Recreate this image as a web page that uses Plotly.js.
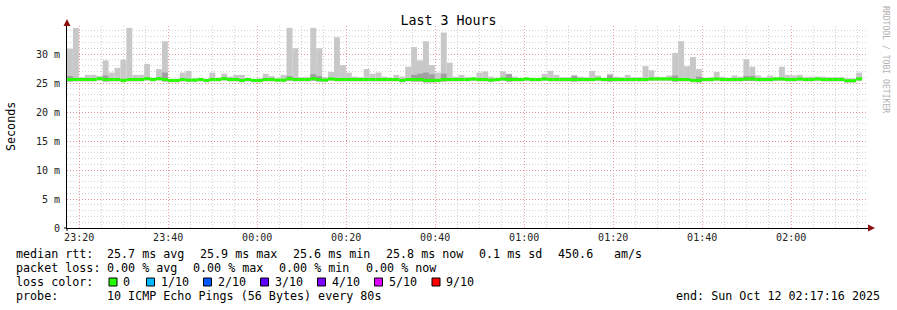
<!DOCTYPE html>
<html>
<head>
<meta charset="utf-8">
<script src="https://cdn.plot.ly/plotly-3.0.1.min.js"></script>
<style>
html,body{margin:0;padding:0;background:#fff;}
#chart{width:897px;height:310px;}
</style>
</head>
<body>
<div id="chart"></div>
<script>
// ---- data (80 s steps, 3 hours ending Sun Oct 12 02:17:16 2025) ----
const rangeStart = '2025-10-11 23:17:16';
const rangeEnd   = '2025-10-12 02:17:16';
const stepSeconds = 80;

// median RTT per step (ms)
const rttMedian = [
  25.6,25.6,25.6,25.6,25.6,25.75,25.6,25.6,25.6,25.45,
  25.6,25.6,25.6,25.75,25.6,25.75,25.6,25.45,25.45,25.6,
  25.5,25.5,25.6,25.45,25.6,25.6,25.75,25.6,25.6,25.45,
  25.6,25.45,25.45,25.6,25.6,25.5,25.5,25.75,25.6,25.6,
  25.6,25.75,25.6,25.5,25.7,25.6,25.6,25.6,25.6,25.6,
  25.6,25.6,25.6,25.6,25.6,25.6,25.45,25.6,25.6,25.6,
  25.45,25.45,25.45,25.6,25.6,25.6,25.6,25.6,25.7,25.6,
  25.6,25.5,25.6,25.7,25.6,25.6,25.6,25.7,25.6,25.6,
  25.7,25.6,25.6,25.6,25.6,25.6,25.6,25.6,25.6,25.7,
  25.6,25.6,25.6,25.6,25.6,25.6,25.6,25.6,25.7,25.7,
  25.7,25.7,25.6,25.6,25.6,25.45,25.45,25.6,25.6,25.7,
  25.6,25.6,25.6,25.6,25.7,25.7,25.6,25.6,25.6,25.7,
  25.7,25.6,25.6,25.7,25.6,25.6,25.7,25.6,25.6,25.6,
  25.6,25.4,25.4,25.7,null
];

// slowest ping per step (ms) - top of the light smoke
const rttMax = [
  30.9,34.5,26.0,26.4,26.4,26.2,28.9,26.8,27.6,29.0,
  34.5,26.4,26.4,28.3,25.9,27.4,32.2,25.7,25.7,26.8,
  27.1,25.8,25.8,25.7,26.8,25.9,26.6,26.1,26.4,26.4,
  25.8,25.7,25.8,26.6,26.2,25.8,26.4,34.5,31.0,26.0,
  26.0,34.5,31.0,26.0,26.9,32.9,28.1,26.8,26.1,26.0,
  27.4,26.6,26.8,26.1,25.8,26.4,26.1,27.8,31.2,28.9,
  32.2,28.1,26.8,33.7,28.5,26.1,26.4,26.0,26.0,26.8,
  27.0,26.1,25.8,27.0,26.6,26.1,25.8,25.8,25.8,25.8,
  26.6,27.1,26.4,26.0,26.0,26.4,26.1,26.0,27.1,26.3,
  25.8,26.6,26.1,26.0,26.4,26.0,26.0,27.9,27.2,26.1,
  26.0,26.3,30.2,32.2,27.9,29.5,27.4,25.8,26.0,26.9,
  26.1,25.8,26.3,26.1,29.1,27.8,26.3,26.0,26.3,26.0,
  27.8,26.4,26.3,26.4,26.0,26.1,26.1,26.1,26.0,26.0,
  26.0,25.8,25.8,26.8,null
];

// inner (darker) smoke top per step (ms)
const rttInner = [
  26.2,null,null,null,null,null,26.3,null,null,null,
  null,null,null,null,null,null,26.8,null,null,null,
  null,null,null,null,null,null,null,null,null,null,
  null,null,null,null,null,null,null,26.2,null,null,
  null,26.5,26.2,null,null,null,null,null,null,null,
  null,null,null,null,null,null,null,null,26.4,26.6,
  26.8,26.5,null,26.6,null,null,null,null,null,null,
  null,null,null,null,26.5,null,null,null,null,null,
  null,null,null,null,null,26.2,null,null,null,null,
  null,26.3,null,null,null,null,null,null,null,null,
  null,null,26.3,null,null,null,26.1,null,null,null,
  null,null,null,null,26.2,26.2,null,null,null,null,
  null,null,null,null,null,null,null,null,null,null,
  null,null,null,null,null
];

const yTickVals  = [0, 5, 10, 15, 20, 25, 30];
const yTickText  = ['0', '5 m', '10 m', '15 m', '20 m', '25 m', '30 m'];

const lossLabels = ['0', '1/10', '2/10', '3/10', '4/10', '5/10', '9/10'];
const lossColors = ['#26ff00', '#00b8ff', '#0059ff', '#5e00ff', '#7e00ff', '#dd00ff', '#ff0000'];

const statsMedian = ['median rtt:', '25.7 ms avg', '25.9 ms max', '25.6 ms min', '25.8 ms now', '0.1 ms sd', '450.6', 'am/s'];
const statsLoss   = ['packet loss:', '0.00 % avg', '0.00 % max', '0.00 % min', '0.00 % now'];
const probeText   = '10 ICMP Echo Pings (56 Bytes) every 80s';
const endText     = 'end: Sun Oct 12 02:17:16 2025';

// ---- build ----
function pad(n){return (n<10?'0':'')+n;}
function fmt(ms){
  const d = new Date(ms);
  return d.getUTCFullYear()+'-'+pad(d.getUTCMonth()+1)+'-'+pad(d.getUTCDate())+' '+
         pad(d.getUTCHours())+':'+pad(d.getUTCMinutes())+':'+pad(d.getUTCSeconds());
}
const t0 = Date.UTC(2025, 9, 11, 23, 17, 16);
const xs = rttMedian.map((_, i) => fmt(t0 + (i * stepSeconds + stepSeconds / 2) * 1000));
const barW = stepSeconds * 1000;

const smokeBase = rttMedian.map(m => m == null ? null : m - 0.35);
const lightTrace = {
  type: 'bar', x: xs, base: smokeBase,
  y: rttMax.map((v, i) => v == null ? null : v - smokeBase[i]),
  width: barW, marker: {color: '#c8c8c8', line: {width: 0}}, hoverinfo: 'skip'
};
const innerTrace = {
  type: 'bar', x: xs, base: smokeBase,
  y: rttInner.map((v, i) => v == null ? null : v - smokeBase[i]),
  width: barW, marker: {color: '#a0a0a0', line: {width: 0}}, hoverinfo: 'skip'
};
const medianTrace = {
  type: 'bar', x: xs, base: rttMedian.map(m => m == null ? null : m - 0.26),
  y: rttMedian.map(m => m == null ? null : 0.52),
  width: barW, marker: {color: lossColors[0], line: {width: 0}}, hoverinfo: 'skip'
};

// pixel helpers for decorations around the plot area (plot: x 67..868, y 26..228)
const PL = 67, PR = 868, PT = 26, PB = 228;
const px = x => (x - PL) / (PR - PL);
const py = y => (PB - y) / (PB - PT);

const MONO = 'DejaVu Sans Mono';
const annotations = [];
function txt(text, x, y, opt) {
  annotations.push(Object.assign({
    text: text, xref: 'paper', yref: 'paper', x: px(x), y: py(y),
    xanchor: 'left', yanchor: 'middle', showarrow: false, borderpad: 0, borderwidth: 0,
    font: {family: MONO, size: 11.7, color: '#000'}
  }, opt || {}));
}
const medX = [16, 107, 200, 293, 386, 479, 558, 614];
statsMedian.forEach((s, i) => txt(s, medX[i], 254));
const lossX = [16, 107, 193, 279, 366];
statsLoss.forEach((s, i) => txt(s, lossX[i], 268));
txt('loss color:', 16, 282);
txt('probe:', 16, 296);
txt(probeText, 107, 296);
txt(endText, 880, 296, {xanchor: 'right'});

const shapes = [];
const boxX = [109, 146.5, 203.5, 260.5, 317.5, 374.5, 432];
const lblX = [123, 160.5, 217.5, 274.5, 331.5, 388.5, 446];
lossLabels.forEach((l, i) => {
  shapes.push({type: 'rect', xref: 'paper', yref: 'paper',
    x0: px(boxX[i]), x1: px(boxX[i] + 8), y0: py(278), y1: py(286),
    fillcolor: lossColors[i], line: {color: '#000', width: 1}});
  txt(l, lblX[i], 282);
});

// axis arrows and small axis overhangs
shapes.push({type: 'path', xref: 'paper', yref: 'paper',
  path: `M ${px(63.5)} ${py(26)} L ${px(70.5)} ${py(26)} L ${px(67)} ${py(19)} Z`,
  fillcolor: '#8b1010', line: {width: 0}});
shapes.push({type: 'path', xref: 'paper', yref: 'paper',
  path: `M ${px(868)} ${py(224.5)} L ${px(868)} ${py(231.5)} L ${px(875)} ${py(228)} Z`,
  fillcolor: '#8b1010', line: {width: 0}});
shapes.push({type: 'line', xref: 'paper', yref: 'paper', x0: 0, x1: 0, y0: py(228), y1: py(231),
  line: {color: '#000', width: 1}});
shapes.push({type: 'line', xref: 'paper', yref: 'paper', x0: px(64), x1: 0, y0: 0, y1: 0,
  line: {color: '#000', width: 1}});

// y title and watermark
annotations.push({text: 'Seconds', xref: 'paper', yref: 'paper', x: px(11), y: py(127),
  xanchor: 'center', yanchor: 'middle', textangle: -90, showarrow: false,
  font: {family: MONO, size: 11.7, color: '#000'}});
annotations.push({text: 'RRDTOOL / TOBI OETIKER', xref: 'paper', yref: 'paper', x: px(886), y: py(59),
  xanchor: 'center', yanchor: 'middle', textangle: 90, showarrow: false,
  font: {family: MONO, size: 8.1, color: '#b0b0b0'}});

const MAJ = 'rgba(235,120,120,0.7)';
const MIN = '#d2d2d2';
const layout = {
  width: 897, height: 310,
  margin: {l: PL, r: 897 - PR, t: PT, b: 310 - PB, pad: 0},
  paper_bgcolor: '#fff', plot_bgcolor: '#fff',
  showlegend: false, barmode: 'overlay', hovermode: false,
  title: {text: 'Last 3 Hours', xref: 'container', yref: 'container', x: 0.5, y: 1 - 20 / 310,
    xanchor: 'center', yanchor: 'middle', font: {family: MONO, size: 13.3, color: '#000'}},
  xaxis: {
    type: 'date', range: [rangeStart, rangeEnd],
    tick0: '2025-10-11 23:20:00', dtick: 20 * 60 * 1000, tickformat: '%H:%M',
    showgrid: true, gridcolor: MAJ, griddash: '1px,2px', gridwidth: 1,
    minor: {tick0: '2025-10-11 23:20:00', dtick: 5 * 60 * 1000, showgrid: true, gridcolor: MIN, griddash: '1px,2px', gridwidth: 1},
    showline: true, linecolor: '#000', linewidth: 1, zeroline: false, ticks: '',
    tickfont: {family: MONO, size: 10, color: '#222'}, fixedrange: true
  },
  yaxis: {
    range: [0, (PB - PT) / 5.8], tickvals: yTickVals, ticktext: yTickText,
    showgrid: true, gridcolor: MAJ, griddash: '1px,2px', gridwidth: 1,
    minor: {dtick: 1, showgrid: true, gridcolor: MIN, griddash: '1px,2px', gridwidth: 1},
    showline: true, linecolor: '#000', linewidth: 1, zeroline: false, ticks: '',
    ticklabelstandoff: 4,
    tickfont: {family: MONO, size: 10, color: '#222'}, fixedrange: true
  },
  annotations: annotations,
  shapes: shapes
};

Plotly.newPlot('chart', [lightTrace, innerTrace, medianTrace], layout, {displayModeBar: false, staticPlot: true});
</script>
</body>
</html>
